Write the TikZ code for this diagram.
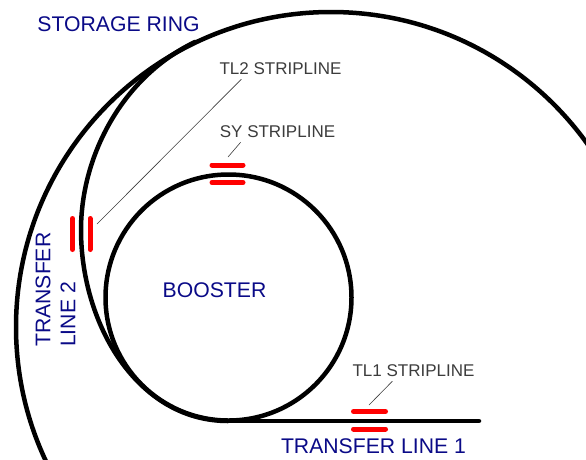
\documentclass[tikz,border=0pt]{standalone}
\usepackage{fontspec}
\setmainfont{Liberation Sans}
\definecolor{labelblue}{RGB}{10,10,135}
\definecolor{leadergray}{RGB}{60,60,60}
\tikzset{
  beamline/.style={draw=black,line width=4.5pt,line cap=round},
  stripbar/.style={draw=red,line width=5pt,line cap=round},
  leader/.style={draw=leadergray,line width=0.6pt},
  beamlabel/.style={text=labelblue,inner sep=0pt,font=\fontsize{21.2}{24}\selectfont},
  striplabel/.style={text=leadergray,inner sep=0pt,font=\fontsize{17}{20}\selectfont},
}
\begin{document}
\begin{tikzpicture}[x=1pt,y=-1pt]
\useasboundingbox (0,0) rectangle (586,459);
\clip (0,0) rectangle (586,459);

%rings
\draw[beamline] (331,327) circle [radius=315];
\draw[beamline] (228.5,297.5) circle [radius=123];

%transfer lines
\draw[beamline] (228,421) -- (479,421);
\draw[beamline] (228,421) .. controls (138,421) and (81,325) .. (81,230) .. controls (81,155) and (123,76.5) .. (195,42);

%striplines
\draw[stripbar] (212,165) -- (243,165);
\draw[stripbar] (212,182.5) -- (243,182.5);
\draw[stripbar] (72.5,218.5) -- (72.5,249.5);
\draw[stripbar] (90,218.5) -- (90,249.5);
\draw[stripbar] (353.5,411.5) -- (385.5,411.5);
\draw[stripbar] (353.5,429) -- (385.5,429);

%labels
\node[beamlabel] (storagelabel) at (118.5,24) {STORAGE RING};
\node[beamlabel] (boosterlabel) at (214.5,290) {BOOSTER};
\node[beamlabel] (tl1label) at (373.5,446) {TRANSFER LINE 1};
\node[beamlabel,rotate=90,anchor=west] (tl2labela) at (43,347) {TRANSFER};
\node[beamlabel,rotate=90,anchor=west] (tl2labelb) at (68,347) {LINE 2};
\node[striplabel] (tl2strip) at (280.5,69) {TL2 STRIPLINE};
\node[striplabel] (systrip) at (277.5,132) {SY STRIPLINE};
\node[striplabel] (tl1strip) at (413.5,371) {TL1 STRIPLINE};

%leaders
\coordinate (tl2end) at (97,224);
\coordinate (syend) at (228,157);
\coordinate (tl1end) at (369,405);
\draw[leader] ([xshift=22pt,yshift=-4pt]tl2strip.south west) -- (tl2end);
\draw[leader] ([xshift=21pt,yshift=-4pt]systrip.south west) -- (syend);
\draw[leader] ([xshift=40pt,yshift=-4pt]tl1strip.south west) -- (tl1end);
\end{tikzpicture}
\end{document}
